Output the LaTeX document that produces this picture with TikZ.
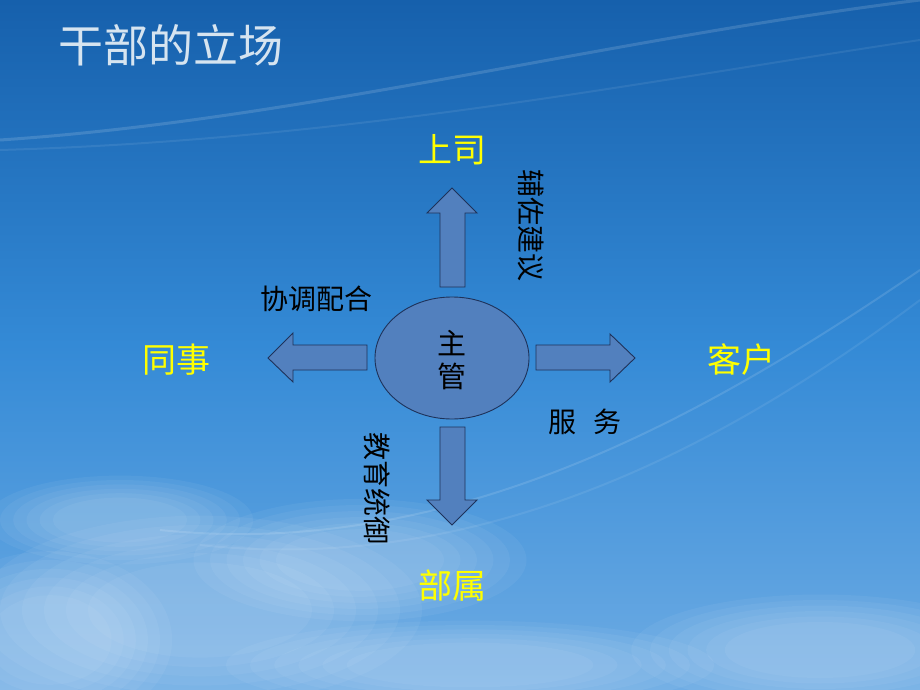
\documentclass[tikz,border=0pt]{standalone}
\usepackage{fontspec}
\newfontfamily\cjk{Noto Sans CJK SC}
\usetikzlibrary{shapes.geometric}
\definecolor{skytop}{RGB}{22,96,172}
\definecolor{skymid}{RGB}{52,138,214}
\definecolor{skybot}{RGB}{110,172,228}
\definecolor{boxfill}{RGB}{82,128,190}
\definecolor{boxline}{RGB}{30,50,90}
\definecolor{labyellow}{RGB}{255,255,0}
\definecolor{titlecol}{RGB}{214,228,240}
\tikzset{
  arrowshape/.style={fill=boxfill, draw=boxline, line width=0.9pt, line join=miter},
  ylabel/.style={font=\cjk\fontsize{34}{34}\selectfont, text=labyellow, inner sep=0pt},
  blabel/.style={font=\cjk\fontsize{28}{28}\selectfont, text=black, inner sep=0pt},
}
\newcommand{\softcloud}[4]{%
  \foreach \k in {1,...,6}{%
    \fill[white, opacity=0.05] (#1,#2) ellipse ({#3*(0.45+0.11*\k)} and {#4*(0.45+0.11*\k)});
  }%
}
\begin{document}
\begin{tikzpicture}[x=1pt,y=-1pt]
\useasboundingbox (0,0) rectangle (920,690);
% sky background
\shade[top color=skytop, bottom color=skymid] (0,0) rectangle (920,345);
\shade[top color=skymid, bottom color=skybot] (0,345) rectangle (920,690);
% soft clouds
\softcloud{200}{610}{200}{85}
\softcloud{360}{560}{150}{55}
\softcloud{50}{640}{110}{80}
\softcloud{470}{665}{220}{40}
\softcloud{820}{650}{170}{50}
\softcloud{120}{520}{120}{40}
% faint swooshes
\draw[white, opacity=0.14, line width=3pt] (0,140) .. controls (300,120) and (600,40) .. (920,0);
\draw[white, opacity=0.08, line width=2pt] (0,150) .. controls (350,140) and (650,80) .. (920,40);
\draw[white, opacity=0.12, line width=2pt] (160,530) .. controls (450,560) and (700,420) .. (920,270);
\draw[white, opacity=0.08, line width=2pt] (200,545) .. controls (480,575) and (720,450) .. (920,300);
% title
\node[font=\cjk\fontsize{45}{45}\selectfont, text=titlecol, inner sep=0pt] (title) at (171,45) {干部的立场};
% center ellipse
\node[ellipse, fill=boxfill, draw=boxline, line width=0.9pt, minimum width=154pt, minimum height=122pt] (center) at (452,358) {};
\node[font=\cjk\fontsize{29}{29}\selectfont, text=black, align=center, inner sep=0pt] (centertext) at (452,360) {主\\[4pt]管};
% arrows
\draw[arrowshape] (440,287) -- (440,213) -- (427,213) -- (452,188) -- (477,213) -- (465,213) -- (465,287) -- cycle;
\draw[arrowshape] (367,345) -- (293,345) -- (293,333) -- (268,358) -- (293,382) -- (293,370) -- (367,370) -- cycle;
\draw[arrowshape] (536,345) -- (610,345) -- (610,334) -- (635,358) -- (610,382) -- (610,370) -- (536,370) -- cycle;
\draw[arrowshape] (440,427) -- (440,500) -- (427,500) -- (452,525) -- (477,500) -- (465,500) -- (465,427) -- cycle;
% yellow labels
\node[ylabel] (up) at (452,150) {上司};
\node[ylabel] (left) at (176,360) {同事};
\node[ylabel] (right) at (741,360) {客户};
\node[ylabel] (down) at (452,586) {部属};
% black labels
\node[blabel, rotate=-90] (fuzuo) at (531,225) {辅佐建议};
\node[blabel] (xietiao) at (316,299) {协调配合};
\node[blabel] (fuwu) at (585,422) {服\hspace{0.6em}务};
\node[blabel, rotate=-90] (jiaoyu) at (377,488) {教育统御};
\end{tikzpicture}
\end{document}
